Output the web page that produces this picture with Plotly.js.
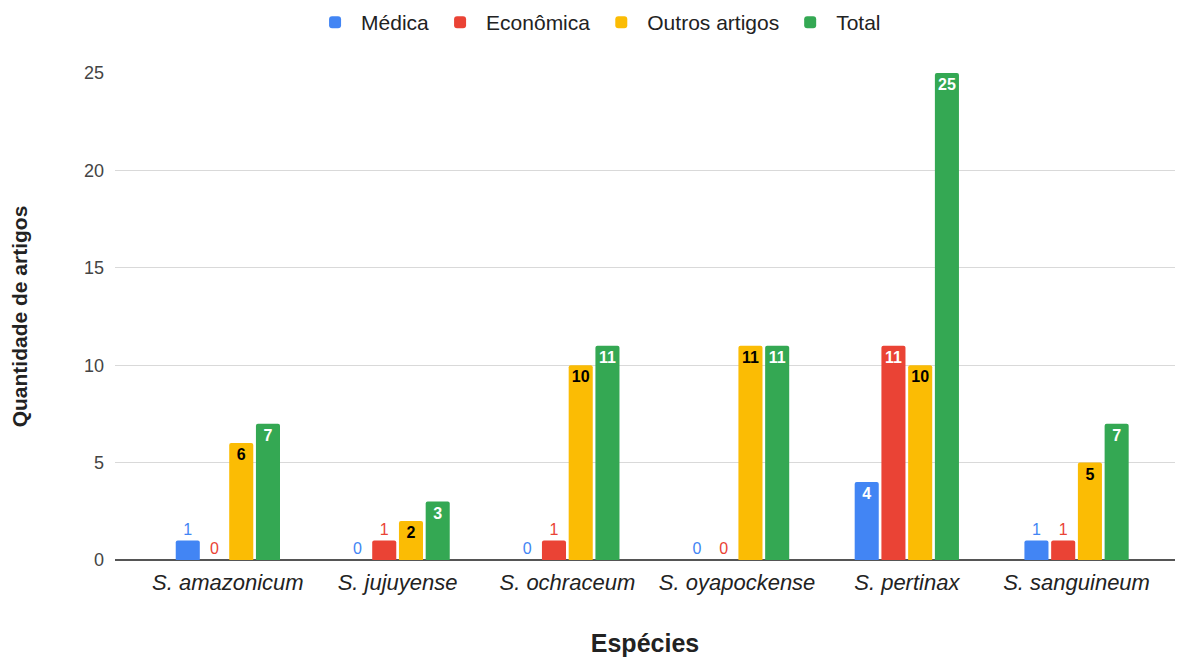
<!DOCTYPE html>
<html><head><meta charset="utf-8">
<script src="https://cdn.plot.ly/plotly-3.0.1.min.js"></script>
<style>html,body{margin:0;padding:0;background:#fff}#chart{width:1188px;height:659px}</style>
</head><body><div id="chart"></div>
<script>
const categories = ["S. amazonicum","S. jujuyense","S. ochraceum","S. oyapockense","S. pertinax","S. sanguineum"];
const medica = [1,0,0,0,4,1];
const economica = [0,1,1,0,11,1];
const outros = [6,2,10,11,10,5];
const total = [7,3,11,11,25,7];
const seriesNames = ["Médica","Econômica","Outros artigos","Total"];
const colors = ["#4285f4","#ea4335","#fbbc04","#34a853"];
const insideColors = ["#ffffff","#ffffff","#000000","#ffffff"];
const seriesData = [medica, economica, outros, total];
const FONT = '"Liberation Sans", Arial, sans-serif';

const traces = seriesData.map((vals, i) => ({
  type: 'bar',
  name: seriesNames[i],
  x: categories,
  y: vals,
  text: vals.map(String),
  textposition: vals.map(v => v >= 2 ? 'inside' : 'outside'),
  insidetextanchor: 'end',
  textangle: 0,
  cliponaxis: false,
  constraintext: 'none',
  insidetextfont: {family: FONT, size: 16, color: insideColors[i], weight: 'bold'},
  outsidetextfont: {family: FONT, size: 16, color: colors[i]},
  marker: {color: colors[i], cornerradius: 2},
  hoverinfo: 'x+y+name'
}));

const layout = {
  width: 1188, height: 659,
  margin: {l: 115, r: 13, t: 73, b: 99},
  paper_bgcolor: '#fff', plot_bgcolor: '#fff',
  font: {family: FONT, color: '#222'},
  barmode: 'group',
  bargap: 0.37,
  bargroupgap: 0.1,
  showlegend: true,
  legend: {orientation: 'h', x: 0.503, xref: 'container', xanchor: 'center', y: 0.997, yref: 'container', yanchor: 'top',
           font: {family: FONT, size: 21, color: '#222'}, itemwidth: 42, tracegroupgap: 0},
  xaxis: {
    type: 'category',
    range: [-0.665, 5.58],
    tickfont: {family: FONT, size: 22, color: '#222', style: 'italic'},
    showgrid: false, zeroline: false, showline: false, ticks: '', ticklabelstandoff: 7,
    title: {text: 'Espécies', font: {family: FONT, size: 25, color: '#222', weight: 'bold'}, standoff: 40}
  },
  yaxis: {
    range: [0, 25],
    tickvals: [0,5,10,15,20,25],
    tickfont: {family: FONT, size: 18, color: '#444'},
    gridcolor: '#d9d9d9', gridwidth: 1,
    zeroline: true, zerolinecolor: '#555', zerolinewidth: 1.5,
    showline: false, ticks: '', ticklabelstandoff: 10,
    title: {text: 'Quantidade de artigos', font: {family: FONT, size: 21, color: '#222', weight: 'bold'}, standoff: 50}
  }
};
Plotly.newPlot('chart', traces, layout, {displayModeBar: false, staticPlot: true});
</script></body></html>
